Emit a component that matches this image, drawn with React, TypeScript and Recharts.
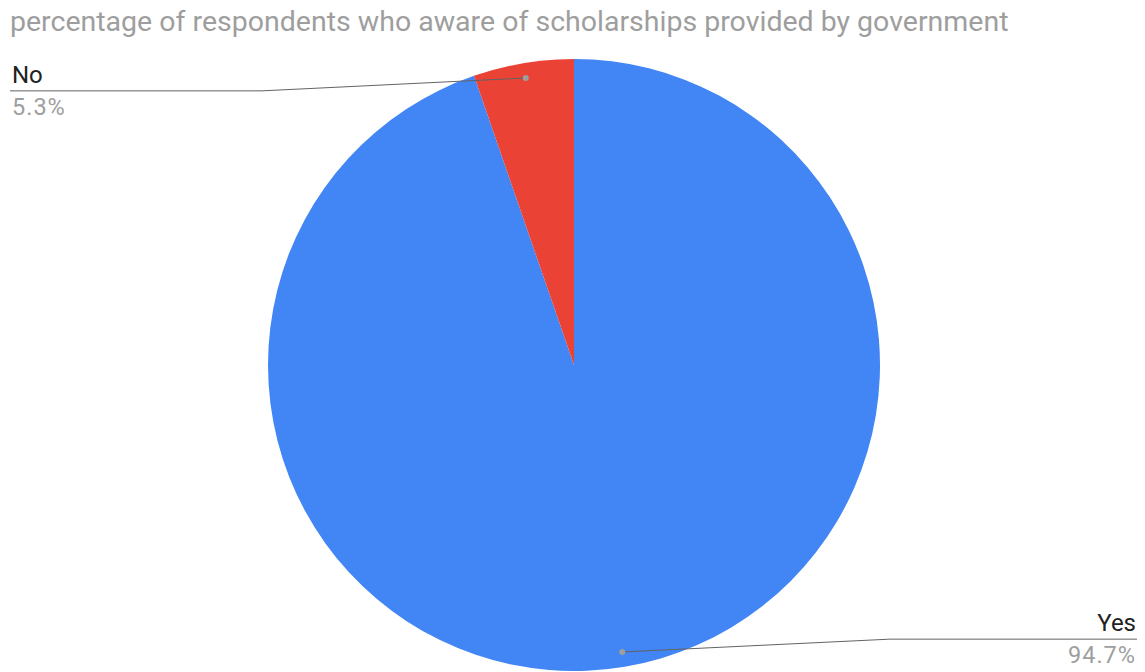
import React from 'react';
import { PieChart, Pie, Cell } from 'recharts';

const categories = ['Yes', 'No'];
const values = [94.7, 5.3];
const colors = ['#4285F4', '#EA4335'];
const title = 'percentage of respondents who aware of scholarships provided by government';

const data = categories.map((name, i) => ({ name, value: values[i] }));

const RAD = Math.PI / 180;

const renderLabel = (props: any) => {
  const { cx, cy, midAngle, outerRadius, name, value } = props;
  const cos = Math.cos(-midAngle * RAD);
  const sin = Math.sin(-midAngle * RAD);
  const dx = cx + (outerRadius - 15) * cos;
  const dy = cy + (outerRadius - 15) * sin;
  const lineY = cy + (outerRadius - 28) * sin;
  const left = cos < 0;
  const bendX = left ? cx - outerRadius - 6 : cx + outerRadius + 10;
  const endX = left ? 10 : 1137;
  const textX = left ? 12 : 1136;
  const anchor = left ? 'start' : 'end';
  return (
    <g>
      <path d={`M${dx},${dy}L${bendX},${lineY}L${endX},${lineY}`} stroke="#636363" strokeWidth={1} fill="none" />
      <circle cx={dx} cy={dy} r={3} fill="#9e9e9e" />
      <text x={textX} y={lineY - 8} textAnchor={anchor} fill="#222222" fontSize={24} fontFamily="Roboto">
        {name}
      </text>
      <text x={textX} y={lineY + 24} textAnchor={anchor} fill="#9e9e9e" fontSize={23.5} fontFamily="Roboto" letterSpacing={1}>
        {`${Number(value).toFixed(1)}%`}
      </text>
    </g>
  );
};

export default function App() {
  return (
    <div style={{ position: 'absolute', left: 0, top: 0, width: 1145, height: 672, background: '#fff' }}>
      <div
        style={{
          position: 'absolute',
          left: 10,
          top: 5,
          fontFamily: 'Roboto',
          fontSize: 28.5,
          lineHeight: 'normal',
          color: '#9e9e9e',
          whiteSpace: 'nowrap',
        }}
      >
        {title}
      </div>
      <PieChart width={1145} height={672}>
        <Pie
          data={data}
          dataKey="value"
          nameKey="name"
          cx={569}
          cy={360}
          outerRadius={306}
          startAngle={90}
          endAngle={-270}
          stroke="none"
          label={renderLabel}
          labelLine={false}
          isAnimationActive={false}
        >
          {data.map((d, i) => (
            <Cell key={d.name} fill={colors[i]} />
          ))}
        </Pie>
      </PieChart>
    </div>
  );
}
